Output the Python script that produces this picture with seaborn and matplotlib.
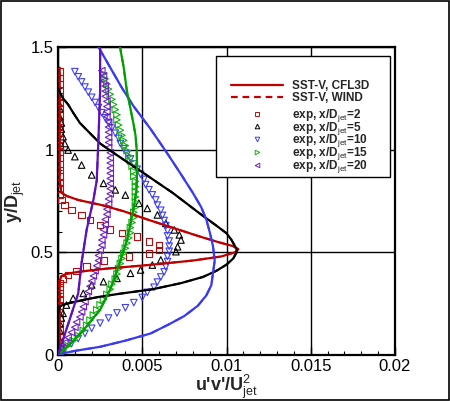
import numpy as np
import pandas as pd
import matplotlib
matplotlib.use("Agg")
import matplotlib.pyplot as plt
import seaborn as sns
from matplotlib.ticker import MultipleLocator, FuncFormatter
from matplotlib.lines import Line2D
from matplotlib.patches import Rectangle

# ---------------- data ----------------
# SST-V CFL3D profiles (x = u'v'/Ujet^2, y = y/Djet)
y_cfl_2 = [0.00, 0.10, 0.20, 0.30, 0.36, 0.385, 0.395, 0.405, 0.42, 0.44, 0.46, 0.48, 0.50, 0.515, 0.53, 0.55, 0.58, 0.62, 0.66, 0.70, 0.73, 0.755, 0.775, 0.79, 0.85, 0.95, 1.05, 1.15, 1.25, 1.35, 1.40]
x_cfl_2 = [0.0001, 0.0001, 0.0001, 0.0001, 0.0001, 0.0002, 0.0005, 0.0012, 0.0028, 0.0056, 0.0080, 0.0097, 0.0105, 0.0107, 0.0104, 0.0095, 0.0083, 0.0068, 0.0053, 0.0039, 0.0026, 0.0012, 0.0005, 0.0002, 0.0001, 0.0001, 0.0001, 0.0001, 0.0001, 0.0001, 0.0001]

y_cfl_5 = [0.00, 0.10, 0.20, 0.235, 0.245, 0.255, 0.27, 0.284, 0.30, 0.32, 0.35, 0.38, 0.41, 0.44, 0.47, 0.50, 0.515, 0.53, 0.56, 0.593, 0.63, 0.69, 0.74, 0.79, 0.84, 0.885, 0.94, 0.99, 1.03, 1.08, 1.13, 1.18, 1.22, 1.25, 1.28, 1.30]
x_cfl_5 = [0.0000, 0.0000, 0.0000, 0.0001, 0.0003, 0.0008, 0.0016, 0.0025, 0.0038, 0.0056, 0.0073, 0.0086, 0.0094, 0.0100, 0.0104, 0.0106, 0.0106, 0.0105, 0.0103, 0.0100, 0.0094, 0.0084, 0.0076, 0.0068, 0.0059, 0.0051, 0.0041, 0.0032, 0.0025, 0.0019, 0.0013, 0.0009, 0.0006, 0.0003, 0.0001, 0.0000]

y_cfl_10 = [0.00, 0.01, 0.02, 0.04, 0.07, 0.105, 0.15, 0.19, 0.24, 0.29, 0.34, 0.40, 0.46, 0.53, 0.60, 0.66, 0.72, 0.79, 0.88, 0.98, 1.10, 1.21, 1.30, 1.40, 1.50]
x_cfl_10 = [0.0000, 0.0004, 0.0010, 0.0025, 0.0040, 0.0055, 0.0066, 0.0075, 0.0083, 0.0088, 0.0091, 0.0092, 0.0093, 0.0092, 0.0090, 0.0088, 0.0085, 0.0080, 0.0073, 0.0065, 0.0055, 0.0045, 0.0038, 0.0031, 0.0024]

y_cfl_15 = [0.00, 0.06, 0.12, 0.22, 0.32, 0.41, 0.46, 0.56, 0.64, 0.72, 0.80, 0.90, 1.00, 1.07, 1.13, 1.20, 1.29, 1.40, 1.50]
x_cfl_15 = [0.0000, 0.0008, 0.0015, 0.0025, 0.0031, 0.0035, 0.0037, 0.0041, 0.0043, 0.0045, 0.00465, 0.0047, 0.00467, 0.0046, 0.00447, 0.0043, 0.00408, 0.0039, 0.00368]

y_cfl_20 = [0.00, 0.10, 0.20, 0.30, 0.45, 0.61, 0.755, 0.85, 1.05, 1.29, 1.50]
x_cfl_20 = [0.0000, 0.0004, 0.0008, 0.0012, 0.0014, 0.0017, 0.0021, 0.0023, 0.0024, 0.0025, 0.0025]

# SST-V WIND profiles (coincide with CFL3D to plotting accuracy)
y_wind_2, x_wind_2 = y_cfl_2, x_cfl_2
y_wind_5, x_wind_5 = y_cfl_5, x_cfl_5
y_wind_10, x_wind_10 = y_cfl_10, x_cfl_10
y_wind_15, x_wind_15 = y_cfl_15, x_cfl_15
y_wind_20, x_wind_20 = y_cfl_20, x_cfl_20

# Experimental data
y_exp_2 = [0.00, 0.03, 0.06, 0.09, 0.12, 0.15, 0.18, 0.21, 0.24, 0.27, 0.30, 0.33, 0.35, 0.37, 0.39, 0.41, 0.43, 0.46, 0.479, 0.495, 0.512, 0.535, 0.552, 0.576, 0.595, 0.612, 0.634, 0.657, 0.681, 0.705, 0.73, 0.755, 0.78, 0.81, 0.84, 0.87, 0.90, 0.93, 0.96, 0.99, 1.02, 1.05, 1.08, 1.11, 1.14, 1.17, 1.20, 1.23, 1.26, 1.29, 1.32, 1.35, 1.38]
x_exp_2 = [0.0001, 0.0001, 0.0001, 0.0001, 0.0001, 0.0001, 0.0001, 0.0001, 0.0001, 0.0001, 0.0001, 0.0001, 0.0001, 0.0003, 0.0006, 0.0011, 0.0017, 0.0027, 0.0042, 0.0054, 0.0060, 0.0060, 0.0054, 0.0047, 0.0038, 0.0031, 0.0025, 0.0019, 0.0014, 0.0008, 0.0004, 0.0002, 0.0001, 0.0001, 0.0001, 0.0001, 0.0001, 0.0001, 0.0001, 0.0001, 0.0001, 0.0001, 0.0001, 0.0001, 0.0001, 0.0001, 0.0001, 0.0001, 0.0001, 0.0001, 0.0001, 0.0001, 0.0001]

y_exp_5 = [0.00, 0.03, 0.06, 0.09, 0.12, 0.154, 0.18, 0.203, 0.243, 0.276, 0.30, 0.341, 0.357, 0.373, 0.398, 0.414, 0.438, 0.463, 0.503, 0.527, 0.56, 0.585, 0.609, 0.641, 0.682, 0.714, 0.739, 0.779, 0.804, 0.836, 0.877, 0.925, 0.966, 0.998, 1.03, 1.063, 1.10, 1.13, 1.16, 1.20, 1.235, 1.27]
x_exp_5 = [0.0000, 0.0000, 0.0000, 0.0000, 0.0001, 0.0001, 0.0002, 0.0003, 0.0005, 0.0009, 0.0015, 0.0020, 0.0027, 0.0035, 0.0043, 0.0049, 0.0056, 0.0061, 0.0070, 0.0071, 0.0073, 0.0072, 0.0069, 0.0064, 0.0059, 0.0053, 0.0048, 0.0040, 0.0034, 0.0027, 0.0020, 0.0014, 0.0010, 0.0006, 0.0004, 0.0003, 0.0002, 0.0002, 0.0001, 0.0001, 0.0000, 0.0000]

y_exp_10 = [1.38, 1.355, 1.33, 1.305, 1.28, 1.255, 1.23, 1.205, 1.18, 1.155, 1.13, 1.105, 1.08, 1.055, 1.03, 1.005, 0.98, 0.955, 0.93, 0.905, 0.88, 0.855, 0.83, 0.805, 0.78, 0.755, 0.73, 0.705, 0.68, 0.655, 0.63, 0.605, 0.58, 0.555, 0.53, 0.505, 0.48, 0.455, 0.43, 0.405, 0.38, 0.355, 0.33, 0.305, 0.28, 0.255, 0.23, 0.205, 0.18, 0.155, 0.13, 0.105, 0.08, 0.055, 0.03, 0.005]
x_exp_10 = [0.0010, 0.0012, 0.0014, 0.0016, 0.0018, 0.0020, 0.0022, 0.0024, 0.0026, 0.0028, 0.0030, 0.0032, 0.0034, 0.0036, 0.0037, 0.0039, 0.0041, 0.0043, 0.0045, 0.0047, 0.0049, 0.0051, 0.0052, 0.0054, 0.0056, 0.0058, 0.0059, 0.0061, 0.0062, 0.0063, 0.0064, 0.0065, 0.0065, 0.0066, 0.0066, 0.0066, 0.0065, 0.0065, 0.0064, 0.0063, 0.0061, 0.0059, 0.0057, 0.0053, 0.0050, 0.0045, 0.0040, 0.0035, 0.0030, 0.0025, 0.0020, 0.0016, 0.0012, 0.0008, 0.0004, 0.0001]

y_exp_15 = [1.37, 1.345, 1.32, 1.295, 1.27, 1.245, 1.22, 1.195, 1.17, 1.145, 1.12, 1.095, 1.07, 1.045, 1.02, 0.995, 0.97, 0.945, 0.92, 0.895, 0.87, 0.845, 0.82, 0.795, 0.77, 0.745, 0.72, 0.695, 0.67, 0.645, 0.62, 0.595, 0.57, 0.545, 0.52, 0.495, 0.47, 0.445, 0.42, 0.395, 0.37, 0.345, 0.32, 0.295, 0.27, 0.245, 0.22, 0.195, 0.17, 0.145, 0.12, 0.095, 0.07, 0.045, 0.02]
x_exp_15 = [0.0027, 0.0028, 0.0029, 0.0030, 0.0031, 0.0032, 0.0033, 0.0034, 0.0035, 0.0035, 0.0036, 0.0037, 0.0038, 0.0039, 0.0040, 0.0041, 0.0042, 0.0043, 0.0044, 0.0045, 0.0045, 0.0046, 0.0046, 0.0046, 0.0046, 0.0046, 0.0046, 0.0045, 0.0045, 0.0044, 0.0043, 0.0043, 0.0042, 0.0041, 0.0040, 0.0039, 0.0038, 0.0037, 0.0036, 0.0035, 0.0034, 0.0032, 0.0031, 0.0029, 0.0027, 0.0025, 0.0023, 0.0021, 0.0019, 0.0017, 0.0015, 0.0012, 0.0009, 0.0006, 0.0003]

y_exp_20 = [1.385, 1.36, 1.335, 1.31, 1.285, 1.26, 1.235, 1.21, 1.185, 1.16, 1.135, 1.11, 1.085, 1.06, 1.035, 1.01, 0.985, 0.96, 0.935, 0.91, 0.885, 0.86, 0.835, 0.81, 0.785, 0.76, 0.735, 0.71, 0.685, 0.66, 0.635, 0.61, 0.585, 0.56, 0.535, 0.51, 0.485, 0.46, 0.435, 0.41, 0.385, 0.36, 0.335, 0.31, 0.285, 0.26, 0.235, 0.21, 0.185, 0.16, 0.135, 0.11, 0.085, 0.06, 0.035, 0.01]
x_exp_20 = [0.0026, 0.0027, 0.0027, 0.0028, 0.0028, 0.0028, 0.0029, 0.0029, 0.0029, 0.0029, 0.0030, 0.0030, 0.0030, 0.0030, 0.0030, 0.0030, 0.0031, 0.0031, 0.0031, 0.0031, 0.0031, 0.0031, 0.0031, 0.0031, 0.0031, 0.0030, 0.0030, 0.0029, 0.0029, 0.0028, 0.0028, 0.0027, 0.0027, 0.0026, 0.0026, 0.0025, 0.0024, 0.0024, 0.0023, 0.0022, 0.0021, 0.0020, 0.0019, 0.0018, 0.0017, 0.0016, 0.0015, 0.0014, 0.0013, 0.0011, 0.0010, 0.0008, 0.0006, 0.0004, 0.0002, 0.0001]

stations = ["2", "5", "10", "15", "20"]
line_labels = ["SST-V, CFL3D", "SST-V, WIND"]
exp_labels = ["exp, x/D$_{\\mathrm{jet}}$=2", "exp, x/D$_{\\mathrm{jet}}$=5",
              "exp, x/D$_{\\mathrm{jet}}$=10", "exp, x/D$_{\\mathrm{jet}}$=15",
              "exp, x/D$_{\\mathrm{jet}}$=20"]
x_ticks = [0, 0.005, 0.01, 0.015, 0.02]
y_ticks = [0, 0.5, 1, 1.5]

# ---------------- style ----------------
sns.set_theme(style="white")
plt.rcParams["font.family"] = ["Liberation Sans", "DejaVu Sans"]
plt.rcParams["mathtext.fontset"] = "custom"
plt.rcParams["mathtext.rm"] = "Liberation Sans"
plt.rcParams["mathtext.it"] = "Liberation Sans:italic"
plt.rcParams["mathtext.bf"] = "Liberation Sans:bold"

line_colors = {"2": "#c00000", "5": "#000000", "10": "#3a3af0", "15": "#00a000", "20": "#6010c0"}
mark_colors = {"2": "#b01010", "5": "#000000", "10": "#4040f0", "15": "#10b010", "20": "#7020c0"}
markers = {"2": "s", "5": "^", "10": "v", "15": ">", "20": "<"}

cfl = {"2": (x_cfl_2, y_cfl_2), "5": (x_cfl_5, y_cfl_5), "10": (x_cfl_10, y_cfl_10),
       "15": (x_cfl_15, y_cfl_15), "20": (x_cfl_20, y_cfl_20)}
wind = {"2": (x_wind_2, y_wind_2), "5": (x_wind_5, y_wind_5), "10": (x_wind_10, y_wind_10),
        "15": (x_wind_15, y_wind_15), "20": (x_wind_20, y_wind_20)}
exp = {"2": (x_exp_2, y_exp_2), "5": (x_exp_5, y_exp_5), "10": (x_exp_10, y_exp_10),
       "15": (x_exp_15, y_exp_15), "20": (x_exp_20, y_exp_20)}

fig = plt.figure(figsize=(4.5, 4.01), dpi=100)
ax = fig.add_axes([58 / 450, 46 / 401, 337 / 450, 308 / 401])

# experimental markers
for s in stations:
    xs, ys = exp[s]
    df = pd.DataFrame({"x": xs, "y": ys})
    sns.scatterplot(data=df, x="x", y="y", marker=markers[s], s=22,
                    facecolors="none", edgecolor=mark_colors[s], linewidth=0.8,
                    ax=ax, zorder=3, legend=False)

# computed profiles
for s in stations:
    xs, ys = cfl[s]
    df = pd.DataFrame({"x": xs, "y": ys})
    sns.lineplot(data=df, x="x", y="y", sort=False, estimator=None,
                 color=line_colors[s], linewidth=1.6, ax=ax, zorder=4, legend=False)
    xs, ys = wind[s]
    df = pd.DataFrame({"x": xs, "y": ys})
    sns.lineplot(data=df, x="x", y="y", sort=False, estimator=None,
                 color=line_colors[s], linewidth=1.4, linestyle=(0, (4, 3)),
                 ax=ax, zorder=4, legend=False)

ax.set_xlim(0, 0.02)
ax.set_ylim(0, 1.5)
ax.set_xticks(x_ticks)
ax.set_yticks(y_ticks)
ax.xaxis.set_minor_locator(MultipleLocator(0.001))
ax.yaxis.set_minor_locator(MultipleLocator(0.1))
fmt = FuncFormatter(lambda v, p: "%g" % v)
ax.xaxis.set_major_formatter(fmt)
ax.yaxis.set_major_formatter(fmt)
ax.tick_params(which="both", direction="in", bottom=True, left=True, top=False, right=False,
               colors="black", labelsize=12)
ax.tick_params(which="major", length=6, width=1.0, pad=3)
ax.tick_params(which="minor", length=3, width=0.8)
ax.grid(True, which="major", color="black", linewidth=1.0)
ax.set_axisbelow(True)
for sp in ax.spines.values():
    sp.set_color("black")
    sp.set_linewidth(1.6)

ax.set_xlabel("u'v'/U$_{\\mathrm{jet}}^{\\mathrm{2}}$", fontsize=13, fontweight="bold", labelpad=-1)
ax.set_ylabel("y/D$_{\\mathrm{jet}}$", fontsize=13, fontweight="bold", labelpad=3)

# legend frame (white box that hides grid lines)
box = Rectangle((0.4688, 0.578), 0.516, 0.3928, transform=ax.transAxes,
                facecolor="white", edgecolor="black", linewidth=1.0, zorder=9)
ax.add_patch(box)

line_handles = [
    Line2D([], [], color=line_colors["2"], lw=1.6),
    Line2D([], [], color=line_colors["2"], lw=1.6, ls=(0, (3, 2.2))),
]
leg1 = ax.legend(line_handles, line_labels, loc="upper left",
                 bbox_to_anchor=(0.5125, 0.894), prop={"size": 8.5, "weight": "bold"},
                 frameon=False, borderpad=0, labelspacing=0.0,
                 handlelength=4.45, handletextpad=0.7, borderaxespad=0)
leg1.set_zorder(10)
ax.add_artist(leg1)

exp_handles = [Line2D([], [], ls="none", marker=markers[s], ms=3.3, mfc="none",
                      mec=mark_colors[s], mew=0.7) for s in stations]
leg2 = ax.legend(exp_handles, exp_labels, loc="upper left",
                 bbox_to_anchor=(0.5125, 0.806), prop={"size": 8.5, "weight": "bold"},
                 frameon=False, borderpad=0, labelspacing=-0.36,
                 handlelength=4.45, handletextpad=0.7, borderaxespad=0)
leg2.set_zorder(10)

fig.patches.append(Rectangle((0.0015, 0.0015), 0.997, 0.997, transform=fig.transFigure,
                             fill=False, edgecolor="black", linewidth=1.2))

fig.savefig("out.png", dpi=100)
